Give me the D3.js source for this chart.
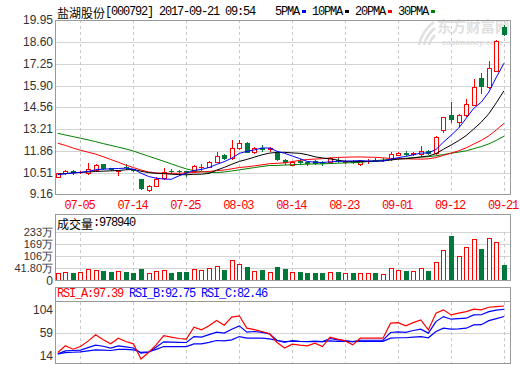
<!DOCTYPE html>
<html lang="zh">
<head>
<meta charset="UTF-8">
<title>盐湖股份 日K</title>
<script src="https://d3js.org/d3.v7.min.js"></script>
<style>
  body { margin: 0; background: #fff; }
  svg { display: block; }
</style>
</head>
<body>
<svg width="520" height="365"></svg>
<script>
// trading days on the chart
const dates = ["06-30","07-03","07-04","07-05","07-06","07-07","07-10","07-11","07-12","07-13",
  "07-14","07-17","07-18","07-19","07-20","07-21","07-24","07-25","07-26","07-27",
  "07-28","07-31","08-01","08-02","08-03","08-04","08-07","08-08","08-09","08-10",
  "08-11","08-14","08-15","08-16","08-17","08-18","08-21","08-22","08-23","08-24",
  "08-25","08-28","08-29","08-30","08-31","09-01","09-04","09-05","09-06","09-07",
  "09-08","09-11","09-12","09-13","09-14","09-15","09-18","09-19","09-20","09-21"];

const opens = [10.30,10.52,10.62,10.56,10.50,10.70,11.05,10.80,10.62,10.90,
  10.74,10.13,9.47,9.73,10.19,10.66,10.66,10.62,10.66,10.86,
  10.91,11.21,11.63,11.42,12.04,12.35,11.79,12.05,11.98,11.83,
  11.30,11.01,11.25,11.20,11.28,11.18,11.21,11.34,11.22,11.22,
  11.05,11.24,11.34,11.30,11.36,11.63,11.72,11.67,11.67,11.89,
  11.73,13.17,14.09,13.64,14.09,14.71,16.36,15.80,16.82,19.50];
const highs = [10.52,10.68,10.70,10.62,11.15,11.05,11.10,10.85,10.72,11.05,
  10.78,10.15,9.75,10.29,10.81,10.78,10.72,10.65,11.00,11.05,
  11.25,11.79,11.70,12.55,12.55,12.45,12.10,12.25,12.10,11.90,
  11.40,11.28,11.35,11.26,11.32,11.24,11.48,11.46,11.34,11.30,
  11.30,11.38,11.42,11.42,11.83,11.80,11.90,11.80,12.18,11.93,
  12.80,14.00,14.91,14.15,15.06,16.29,16.66,17.44,18.70,19.64];
const lows = [10.27,10.48,10.45,10.50,10.48,10.68,10.78,10.70,10.40,10.76,
  10.62,9.55,9.42,9.70,10.15,10.52,10.55,10.35,10.62,10.72,
  10.88,11.18,11.38,11.40,12.00,11.80,11.75,11.90,11.90,11.30,
  11.10,10.98,11.10,11.04,11.08,11.04,11.18,11.20,11.12,11.14,
  11.00,11.12,11.26,11.26,11.34,11.60,11.63,11.62,11.64,11.70,
  11.70,13.06,13.68,13.42,14.05,14.68,15.47,15.78,16.80,19.03];
const closes = [10.49,10.64,10.60,10.58,10.75,11.01,10.81,10.74,10.66,10.86,
  10.70,9.57,9.72,10.13,10.60,10.62,10.62,10.58,10.97,10.90,
  11.21,11.57,11.42,12.04,12.39,11.83,12.04,12.00,12.03,11.36,
  11.22,11.22,11.18,11.16,11.12,11.14,11.42,11.30,11.26,11.18,
  11.26,11.28,11.28,11.34,11.67,11.73,11.68,11.77,11.87,11.73,
  12.76,13.99,13.83,14.09,14.77,15.84,15.90,16.97,18.67,19.07];

// 成交量, 万股
const volumes = [18.0,23.2,18.0,23.2,38.7,35.0,29.9,23.2,29.9,23.2,
  19.5,40.2,18.0,26.3,33.5,19.5,24.7,24.7,36.6,33.5,
  43.8,54.2,35.0,85.2,64.5,50.6,29.9,35.0,23.2,46.9,
  40.2,23.2,24.7,19.5,19.5,19.5,23.2,24.7,18.0,19.5,
  18.0,18.0,19.5,12.8,43.8,33.5,29.9,29.9,43.8,29.9,
  74.8,138.4,207.1,107.4,152.4,195.3,143.6,198.9,178.2,60.9];

// moving averages before enough closes are on the chart
const ma5Lead = [10.42,10.47,10.52,10.56];
const ma10Lead = [10.45,10.48,10.52,10.55,10.58,10.61,10.63,10.65,10.67];
const ma20Lead = [12.35,12.22,12.06,11.92,11.80,11.68,11.52,11.35,11.18,11.00,
  10.85,10.70,10.58,10.52,10.50,10.50,10.50,10.52,10.55];
const ma30Lead = [12.96,12.86,12.76,12.66,12.56,12.45,12.33,12.22,12.11,12.00,
  11.87,11.71,11.55,11.40,11.24,11.08,10.92,10.77,10.66,10.60,
  10.56,10.54,10.58,10.64,10.71,10.78,10.85,10.92,10.98];

const rsiA = [31.6,41.1,36.3,40.1,47.7,56.6,49.6,43.9,51.9,47.2,
  43.9,22.4,31.6,42.5,55.6,53.3,51.4,50.5,67.5,63.7,
  69.4,77.0,70.3,81.7,83.5,66.1,64.0,61.3,58.0,45.8,
  37.9,43.5,42.0,41.1,44.9,40.1,53.3,50.5,48.1,42.5,
  51.9,51.9,51.9,51.9,73.1,73.9,69.3,73.9,77.8,63.6,
  87.2,91.9,84.8,87.2,89.4,92.8,92.0,95.6,96.5,97.39];
const rsiB = [29.8,34.0,34.5,35.0,38.5,42.0,40.5,38.0,41.0,39.5,
  38.0,30.8,32.0,39.0,46.7,46.3,46.0,45.8,54.2,53.4,
  57.0,60.4,59.0,64.6,69.3,60.4,61.3,60.0,58.0,48.6,
  45.8,48.6,47.5,47.2,47.8,47.0,51.4,49.5,48.5,47.0,
  49.0,49.0,49.0,49.0,59.9,60.9,60.0,62.7,64.6,59.0,
  75.3,82.4,78.7,79.5,80.1,84.8,85.0,89.4,91.5,92.75];
const rsiC = [29.8,31.5,32.0,32.5,34.0,35.5,35.0,34.5,36.0,36.0,
  35.5,31.7,32.5,36.0,40.1,40.0,40.0,40.0,43.9,43.9,
  46.0,48.6,48.2,49.6,54.2,52.0,52.0,52.0,51.0,48.6,
  47.2,47.5,47.2,47.0,47.2,47.0,48.0,47.5,47.2,47.0,
  47.5,47.5,47.5,47.5,52.0,52.5,52.5,53.5,54.2,52.5,
  61.3,66.0,64.6,65.0,66.0,70.7,71.0,76.7,79.5,82.46];

const priceTicks = [19.95,18.60,17.25,15.90,14.56,13.21,11.86,10.51,9.16];
const volTicks = [233,169,106,41.80];
const rsiTicks = [104,59,14];
const dateTicks = ["07-05","07-14","07-25","08-03","08-14","08-23","09-01","09-12","09-21"];

const RED = "#ff0000", GREEN = "#00783a", BLUE = "#0000ff";
const monoFont = "'Liberation Mono','DejaVu Sans Mono',monospace";
const cjkFont = "'Noto Sans CJK SC','Noto Sans',sans-serif";
const axisFont = "'Liberation Sans',Arial,sans-serif";

function movingAvg(n, lead) {
  return closes.map((c, i) => i < n - 1 ? lead[i] : d3.mean(closes.slice(i - n + 1, i + 1)));
}
const ma5 = movingAvg(5, ma5Lead);
const ma10 = movingAvg(10, ma10Lead);
const ma20 = movingAvg(20, ma20Lead);
const ma30 = movingAvg(30, ma30Lead);

const svg = d3.select("svg");
const L = 55, R = 510;

const x = d3.scalePoint().domain(dates).range([57.8, 504]);
const yP = d3.scaleLinear().domain([9.16, 19.95]).range([195, 20]);
const yV = d3.scaleLinear().domain([-21.8, 233]).range([280.5, 231.5]);
const yR = d3.scaleLinear().domain([14, 104]).range([365, 301.3]);

const px = v => Math.round(v) + 0.5;

// clip paths
const defs = svg.append("defs");
defs.append("clipPath").attr("id", "clipMain")
  .append("rect").attr("x", L).attr("y", 20).attr("width", R - L).attr("height", 175);
defs.append("clipPath").attr("id", "clipRsi")
  .append("rect").attr("x", L).attr("y", 302).attr("width", R - L).attr("height", 62);

// watermark
const wm = svg.append("g").attr("fill", "#e0e0e0");
wm.append("path").attr("d", "M419,45 C421,36 426,28 434,22 M424,45 C426,38 430,32 435,28 M429,45 C430,41 432,38 435,35")
  .attr("stroke", "#e0e0e0").attr("stroke-width", 2.5).attr("fill", "none");
wm.append("text").attr("x", 437).attr("y", 32).attr("font-family", cjkFont)
  .attr("font-size", 14.5).attr("font-weight", "bold").text("东方财富网");
wm.append("text").attr("x", 442).attr("y", 45).attr("font-family", axisFont)
  .attr("font-size", 8).attr("font-weight", "bold").attr("font-style", "italic").text("eastmoney.com");

// grids
const grid = svg.append("g").attr("shape-rendering", "crispEdges");
grid.selectAll(".hp").data(priceTicks.slice(1, -1)).join("line")
  .attr("x1", L).attr("x2", R).attr("y1", d => px(yP(d))).attr("y2", d => px(yP(d)))
  .attr("stroke", "#d4d4d4");
grid.selectAll(".hv").data(volTicks).join("line")
  .attr("x1", L).attr("x2", R).attr("y1", d => px(yV(d))).attr("y2", d => px(yV(d)))
  .attr("stroke", "#d4d4d4");
grid.append("line").attr("x1", L).attr("x2", R).attr("y1", px(yR(59))).attr("y2", px(yR(59)))
  .attr("stroke", "#d4d4d4");

const vPanels = [[20, 195], [232, 281], [302, 364]];
vPanels.forEach(([t, b]) => {
  grid.append("g").selectAll("line").data(dateTicks).join("line")
    .attr("x1", d => px(x(d))).attr("x2", d => px(x(d)))
    .attr("y1", t).attr("y2", b)
    .attr("stroke", "#c8c8c8").attr("stroke-dasharray", "3,3");
});

// candles
const candles = svg.append("g").attr("shape-rendering", "crispEdges");
dates.forEach((d, i) => {
  const cx = Math.round(x(d));
  const up = closes[i] >= opens[i];
  const col = up ? RED : GREEN;
  const yTop = Math.round(yP(Math.max(opens[i], closes[i])));
  const yBot = Math.round(yP(Math.min(opens[i], closes[i])));
  const yHi = Math.round(yP(highs[i])), yLo = Math.round(yP(lows[i]));
  candles.append("line").attr("x1", cx + 0.5).attr("x2", cx + 0.5)
    .attr("y1", yHi).attr("y2", yTop).attr("stroke", col);
  candles.append("line").attr("x1", cx + 0.5).attr("x2", cx + 0.5)
    .attr("y1", yBot).attr("y2", yLo + 1).attr("stroke", col);
  if (yBot - yTop < 1) {
    candles.append("line").attr("x1", cx - 2).attr("x2", cx + 3)
      .attr("y1", yTop + 0.5).attr("y2", yTop + 0.5).attr("stroke", col);
  } else {
    candles.append("rect").attr("x", cx - 1.5).attr("y", yTop + 0.5)
      .attr("width", 4).attr("height", yBot - yTop)
      .attr("fill", up ? "#fff" : col).attr("stroke", col);
  }
});

// moving average lines
const lineP = d3.line().x((d, i) => x(dates[i])).y(d => yP(d));
const maG = svg.append("g").attr("clip-path", "url(#clipMain)").attr("fill", "none");
[[ma30, "#008000"], [ma20, RED], [ma10, "#000"], [ma5, BLUE]].forEach(([s, c]) => {
  maG.append("path").attr("d", lineP(s)).attr("stroke", c).attr("stroke-width", 1);
});

// volume bars
const vol = svg.append("g").attr("shape-rendering", "crispEdges");
volumes.forEach((v, i) => {
  const cx = Math.round(x(dates[i]));
  const up = closes[i] >= opens[i];
  const col = up ? RED : GREEN;
  const yt = Math.round(yV(v));
  vol.append("rect").attr("x", cx - 1.5).attr("y", yt + 0.5)
    .attr("width", 4).attr("height", 280 - yt)
    .attr("fill", up ? "#fff" : col).attr("stroke", col);
});

// RSI lines
const lineR = d3.line().x((d, i) => x(dates[i])).y(d => yR(d));
const rsiG = svg.append("g").attr("clip-path", "url(#clipRsi)").attr("fill", "none");
rsiG.append("path").attr("d", lineR(rsiC)).attr("stroke", BLUE).attr("stroke-width", 1.2);
rsiG.append("path").attr("d", lineR(rsiB)).attr("stroke", BLUE).attr("stroke-width", 1.2);
rsiG.append("path").attr("d", lineR(rsiA)).attr("stroke", RED).attr("stroke-width", 1.2);

// frames
const frames = svg.append("g").attr("shape-rendering", "crispEdges").attr("fill", "none").attr("stroke", "#999");
frames.append("rect").attr("x", L + 0.5).attr("y", 20.5).attr("width", R - L).attr("height", 174);
frames.append("rect").attr("x", L + 0.5).attr("y", 214.5).attr("width", R - L).attr("height", 66);
frames.append("rect").attr("x", L + 0.5).attr("y", 287.5).attr("width", R - L).attr("height", 76);
frames.append("line").attr("x1", L).attr("x2", R + 1).attr("y1", 301.5).attr("y2", 301.5);

// axis labels
const lab = svg.append("g").attr("font-family", axisFont).attr("font-size", 12)
  .attr("fill", "#333").attr("text-anchor", "end").attr("dominant-baseline", "central");
lab.selectAll(".pl").data(priceTicks).join("text")
  .attr("x", 53).attr("y", d => Math.min(yP(d), 193.5)).text(d => d.toFixed(2));
lab.selectAll(".vl").data(volTicks).join("text")
  .attr("x", 53).attr("y", d => yV(d)).attr("font-size", 11)
  .text(d => (d % 1 ? d.toFixed(2) : d) + "万");
lab.append("text").attr("x", 53).attr("y", 281).text("0");
lab.selectAll(".rl").data(rsiTicks).join("text")
  .attr("x", 53).attr("y", d => Math.max(310, Math.min(356, yR(d)))).text(d => d);

svg.append("g").attr("font-family", monoFont).attr("font-size", 12).attr("letter-spacing", "-1.2px")
  .attr("fill", RED).attr("text-anchor", "middle").attr("dominant-baseline", "central")
  .selectAll("text").data(dateTicks).join("text")
  .attr("x", d => x(d) - 1).attr("y", 206).text(d => d);

// header texts
function mixed(parts, xx, yy) {
  const t = svg.append("text").attr("x", xx).attr("y", yy).attr("dominant-baseline", "central");
  parts.forEach(p => {
    const s = t.append("tspan").attr("fill", p.color || "#000").text(p.text);
    if (p.cjk) s.attr("font-family", cjkFont).attr("font-size", 12);
    else s.attr("font-family", monoFont).attr("font-size", 12).attr("letter-spacing", "-1.2px");
  });
  return t;
}
mixed([{ text: "盐湖股份", cjk: true }, { text: "[000792] 2017-09-21 09:54" }], 57, 11.5);
mixed([{ text: "成交量", cjk: true }, { text: ":978940" }], 57, 223);
mixed([{ text: "RSI_A:97.39 ", color: RED }, { text: "RSI_B:92.75 ", color: BLUE },
  { text: "RSI_C:82.46", color: BLUE }], 57, 294);

// MA legend
const legend = [["5PMA", BLUE], ["10PMA", "#000"], ["20PMA", RED], ["30PMA", "#008000"]];
let lx = 275;
legend.forEach(([name, c]) => {
  svg.append("text").attr("x", lx).attr("y", 11.5).attr("dominant-baseline", "central")
    .attr("font-family", monoFont).attr("font-size", 12).attr("letter-spacing", "-1.2px").text(name);
  const sx = lx + name.length * 6 + 3;
  svg.append("rect").attr("x", sx).attr("y", 10).attr("width", 4).attr("height", 3).attr("fill", c);
  lx = sx + 10;
});
</script>
</body>
</html>
